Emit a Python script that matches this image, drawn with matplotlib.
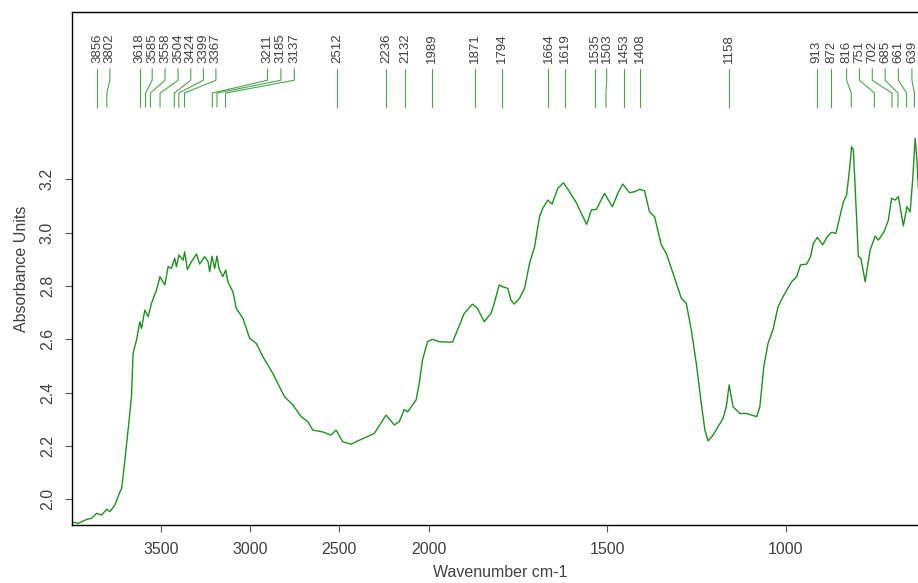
import numpy as np
import matplotlib.pyplot as plt
import matplotlib.transforms as mtransforms

plt.rcParams['font.family'] = ['Liberation Sans', 'DejaVu Sans']

# spectrum (wavenumber cm-1, absorbance)
wavenumber = [3999, 3962, 3915, 3887, 3859, 3831, 3803, 3785, 3757, 3729,
              3719, 3701, 3683, 3664, 3655, 3636, 3617, 3608, 3589, 3571,
              3552, 3524, 3509, 3505, 3477, 3459, 3440, 3422, 3412, 3398,
              3375, 3366, 3351, 3328, 3300, 3282, 3254, 3235, 3226, 3213,
              3198, 3185, 3174, 3152, 3136, 3124, 3096, 3077, 3040, 3002,
              2965, 2928, 2872, 2835, 2807, 2760, 2713, 2676, 2648, 2593,
              2546, 2518, 2481, 2434, 2387, 2304, 2238, 2192, 2164, 2136,
              2117, 2070, 2052, 2034, 2006, 1989, 1970, 1933, 1919, 1900,
              1877, 1863, 1844, 1825, 1816, 1802, 1792, 1778, 1769, 1760,
              1745, 1731, 1717, 1703, 1689, 1680, 1666, 1654, 1638, 1622,
              1605, 1586, 1572, 1557, 1544, 1530, 1507, 1485, 1470, 1456,
              1437, 1423, 1409, 1395, 1381, 1367, 1348, 1334, 1315, 1292,
              1278, 1264, 1250, 1236, 1226, 1217, 1203, 1175, 1166, 1158,
              1147, 1128, 1109, 1081, 1072, 1061, 1049, 1035, 1025, 1021,
              1007, 983, 969, 958, 941, 930, 922, 911, 896, 883,
              871, 859, 848, 838, 829, 820, 815, 810, 803, 796,
              789, 777, 763, 749, 740, 724, 712, 703, 693, 684,
              670, 660, 651, 644, 637, 632, 628]
absorbance = [1.916, 1.910, 1.925, 1.929, 1.948, 1.941, 1.963, 1.954, 1.979, 2.028,
              2.041, 2.147, 2.260, 2.385, 2.548, 2.597, 2.666, 2.641, 2.710, 2.685,
              2.735, 2.785, 2.822, 2.835, 2.804, 2.872, 2.866, 2.904, 2.872, 2.916,
              2.897, 2.928, 2.862, 2.891, 2.920, 2.882, 2.910, 2.891, 2.853, 2.912,
              2.866, 2.912, 2.866, 2.835, 2.860, 2.816, 2.778, 2.716, 2.679, 2.604,
              2.585, 2.535, 2.472, 2.422, 2.385, 2.354, 2.310, 2.291, 2.260, 2.253,
              2.241, 2.260, 2.216, 2.207, 2.222, 2.247, 2.316, 2.279, 2.291, 2.337,
              2.328, 2.372, 2.435, 2.522, 2.591, 2.600, 2.591, 2.589, 2.635, 2.697,
              2.732, 2.716, 2.666, 2.697, 2.735, 2.804, 2.797, 2.791, 2.747, 2.732,
              2.754, 2.791, 2.885, 2.947, 3.060, 3.091, 3.122, 3.107, 3.166, 3.187,
              3.153, 3.112, 3.072, 3.031, 3.085, 3.087, 3.147, 3.097, 3.147, 3.182,
              3.150, 3.153, 3.162, 3.157, 3.078, 3.060, 2.954, 2.922, 2.847, 2.754,
              2.735, 2.635, 2.510, 2.360, 2.260, 2.219, 2.241, 2.304, 2.347, 2.429,
              2.347, 2.322, 2.322, 2.310, 2.347, 2.497, 2.585, 2.637, 2.697, 2.722,
              2.760, 2.816, 2.835, 2.879, 2.882, 2.910, 2.960, 2.982, 2.954, 2.985,
              3.001, 2.997, 3.060, 3.116, 3.141, 3.247, 3.322, 3.310, 3.110, 2.910,
              2.904, 2.816, 2.935, 2.987, 2.972, 3.003, 3.047, 3.129, 3.122, 3.135,
              3.025, 3.097, 3.078, 3.197, 3.354, 3.272, 3.166]

# picked peaks and where their labels sit
peaks = [3856, 3802, 3618, 3585, 3558, 3504, 3424, 3399, 3367, 3211, 3185, 3137,
         2512, 2236, 2132, 1989, 1871, 1794, 1664, 1619, 1535, 1503, 1453, 1408,
         1158, 913, 872, 816, 751, 702, 685, 661, 639]
label_pos = [3856, 3785, 3618, 3548, 3476, 3403, 3332, 3261, 3191, 2902, 2827, 2752,
             2512, 2236, 2132, 1989, 1871, 1794, 1664, 1619, 1535, 1501, 1453, 1408,
             1158, 913, 872, 829, 793, 757, 721, 684, 646]

line_col = '#1f8f1f'
text_col = '#404040'


# wavenumbers above 2000 are drawn at half scale
def fwd(x):
    x = np.asarray(x, dtype=float)
    return np.where(x > 2000, 2000 + (x - 2000) / 2, x)


def inv(y):
    y = np.asarray(y, dtype=float)
    return np.where(y > 2000, 2000 + 2 * (y - 2000), y)


fig = plt.figure(figsize=(9.18, 5.83), dpi=100)
ax = fig.add_axes([71.5 / 918, 58 / 583, (928 - 71.5) / 918, 513 / 583])
ax.set_xscale('function', functions=(fwd, inv))

ax.plot(wavenumber, absorbance, color=line_col, lw=1.0)
ax.set_xlim(4000, 601)
ax.set_ylim(1.904, 3.827)

trans = mtransforms.blended_transform_factory(ax.transData, ax.transAxes)
for pk, lp in zip(peaks, label_pos):
    ax.plot([lp, lp, pk, pk], [0.889, 0.867, 0.842, 0.815], color=line_col,
            lw=0.8, alpha=0.8, transform=trans, clip_on=False)
    ax.text(lp, 0.900, str(pk), rotation=90, ha='center', va='bottom',
            fontsize=9.5, color=text_col, transform=trans)

ax.set_xticks([3500, 3000, 2500, 2000, 1500, 1000])
ax.set_xticklabels(['3500', '3000', '2500', '2000', '1500', '1000'])
ax.set_yticks([2.0, 2.2, 2.4, 2.6, 2.8, 3.0, 3.2])
ax.set_yticklabels(['2.0', '2.2', '2.4', '2.6', '2.8', '3.0', '3.2'],
                   rotation=90, va='center')
ax.minorticks_off()
ax.tick_params(length=5, width=0.8, colors='#555555', labelcolor=text_col,
               labelsize=11.5, pad=7)

ax.set_xlabel('Wavenumber cm-1', fontsize=11.5, color=text_col, labelpad=6)
ax.set_ylabel('Absorbance Units', fontsize=11.5, color=text_col, labelpad=8)

for side in ['left', 'bottom', 'top']:
    ax.spines[side].set_linewidth(1.0)
    ax.spines[side].set_color('black')
ax.spines['right'].set_visible(False)

fig.savefig('out.png', dpi=100)
